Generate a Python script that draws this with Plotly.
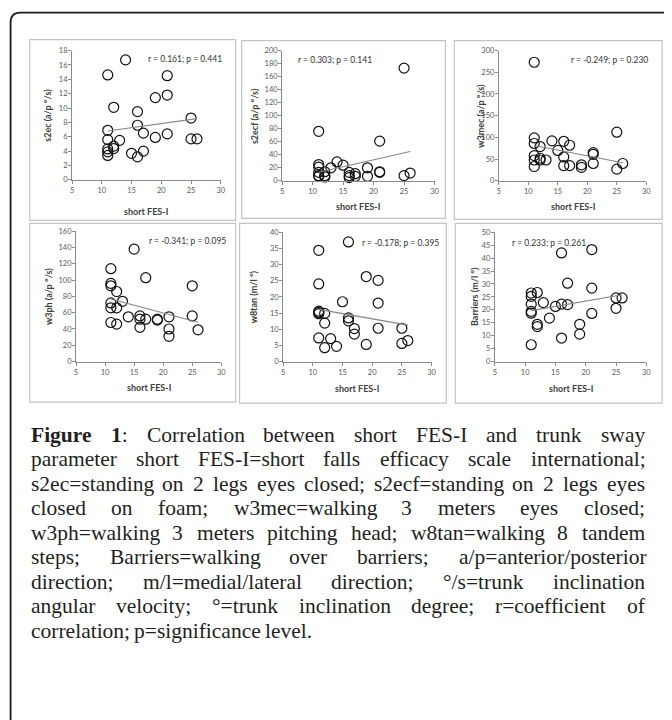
import numpy as np
import plotly.graph_objects as go

W, H = 672, 720
OFF = 8  # default page body margin that shifts the figure

# ---------------- data ----------------
fes_i = [11, 11, 11, 11, 11, 11, 12, 12, 12, 13, 14, 15, 16, 16, 16,
         17, 17, 19, 19, 21, 21, 21, 25, 25, 26]
s2ec = [14.6, 6.9, 5.6, 4.3, 3.9, 3.4, 10.1, 4.7, 4.35, 5.5, 16.7, 3.7,
        9.5, 7.6, 3.2, 6.5, 4.0, 11.45, 5.9, 14.5, 11.8, 6.4, 8.6, 5.7, 5.7]
s2ecf = [76, 25, 21, 13, 8, 7, 14, 8, 6, 20, 29, 24, 13, 8, 5, 11, 7,
         20, 7, 61, 14, 13, 173, 8, 12]
w3mec = [273, 99, 86, 58, 48, 33, 79, 52, 48, 48, 92, 70, 91, 55, 35,
         82, 35, 37, 31, 65, 61, 40, 112, 27, 40]
w3ph = [114, 96, 93, 72, 66, 48, 86, 66, 46, 74, 55, 138, 56, 52, 42,
        103, 52, 52, 51, 55, 40, 31, 93, 56, 39]
w8tan = [34.4, 24.0, 15.6, 15.2, 14.8, 7.3, 14.9, 11.9, 4.3, 7.1, 4.7,
         18.5, 37.0, 13.5, 12.6, 10.2, 8.5, 26.3, 5.3, 25.1, 18.1, 10.3,
         10.3, 5.6, 6.5]
barriers = [26.5, 25.2, 22.2, 19.4, 18.7, 6.5, 26.7, 14.4, 13.5, 22.8,
            16.8, 21.3, 42.0, 22.2, 9.1, 30.3, 22.0, 14.4, 10.6, 43.3,
            28.4, 18.6, 24.6, 20.6, 24.6]

y_titles = ["s2ec (a/p °/s)", "s2ecf (a/p °/s)", "w3mec (a/p °/s)",
            "w3ph (a/p °/s)", "w8tan (m/l °)", "Barriers (m/l °)"]
stat_labels = ["r = 0.161; p = 0.441", "r = 0.303; p = 0.141",
               "r = -0.249; p = 0.230", "r = -0.341; p = 0.095",
               "r = -0.178; p = 0.395", "r = 0.233; p = 0.261"]
y_max = [18, 200, 300, 160, 40, 50]
y_step = [2, 20, 50, 20, 5, 5]
x_title = "short FES-I"

caption_lines = [
    "**Figure** **1**: Correlation between short FES-I and trunk sway",
    "parameter short FES-I=short falls efficacy scale international;",
    "s2ec=standing on 2 legs eyes closed; s2ecf=standing on 2 legs eyes",
    "closed on foam; w3mec=walking 3 meters eyes closed;",
    "w3ph=walking 3 meters pitching head; w8tan=walking 8 tandem",
    "steps; Barriers=walking over barriers; a/p=anterior/posterior",
    "direction; m/l=medial/lateral direction; °/s=trunk inclination",
    "angular velocity; °=trunk inclination degree; r=coefficient of",
    "correlation; p=significance level.",
]

series = [s2ec, s2ecf, w3mec, w3ph, w8tan, barriers]

# ---------------- layout geometry (page pixels) ----------------
geo = [
    dict(box=(28, 36, 236, 219), plot=(70.7, 47, 221, 178), stat=(145, 56), ytx=46, xty=210),
    dict(box=(242, 37, 448, 217), plot=(283, 47, 437, 179), stat=(297, 57), ytx=255, xty=205),
    dict(box=(457, 37, 667, 218), plot=(502, 47, 651, 179), stat=(573, 57), ytx=484, xty=205),
    dict(box=(28, 222, 236, 403), plot=(74.7, 230, 221.5, 362), stat=(146, 240), ytx=47, xty=388),
    dict(box=(240, 222, 449, 404), plot=(284, 231, 434, 362), stat=(362, 242), ytx=254, xty=389),
    dict(box=(458, 222, 667, 404), plot=(498, 231, 651, 362), stat=(513, 242), ytx=478, xty=389),
]

def px(x):
    return (x - OFF) / W

def py(y):
    return 1 - (y - OFF) / H

TICK_FONT = dict(family="Liberation Sans Narrow, Lato", size=7.5, color="#595959")
AX_COL = "#8a8a8a"

fig = go.Figure()
shapes = []
annotations = []

for i, (yv, g) in enumerate(zip(series, geo)):
    n = i + 1
    xa = "x" if n == 1 else f"x{n}"
    ya = "y" if n == 1 else f"y{n}"
    x0, yt, x1, yb = g["plot"]
    fig.add_trace(go.Scatter(
        x=fes_i, y=yv, mode="markers", xaxis=xa, yaxis=ya,
        marker=dict(symbol="circle-open", size=10, color="#111111",
                    line=dict(width=1.2, color="#111111")),
        cliponaxis=False, showlegend=False, hoverinfo="skip"))
    slope, icpt = np.polyfit(fes_i, yv, 1)
    xs = np.array([min(fes_i), max(fes_i)], dtype=float)
    fig.add_trace(go.Scatter(
        x=xs, y=slope * xs + icpt, mode="lines", xaxis=xa, yaxis=ya,
        line=dict(color="#858585", width=1.1),
        cliponaxis=False, showlegend=False, hoverinfo="skip"))
    axkey_x = "xaxis" if n == 1 else f"xaxis{n}"
    axkey_y = "yaxis" if n == 1 else f"yaxis{n}"
    fig.update_layout(**{
        axkey_x: dict(domain=[px(x0), px(x1)], anchor=ya, range=[5, 30],
                      tick0=5, dtick=5, showline=True, linecolor=AX_COL,
                      linewidth=1, ticks="outside", ticklen=3,
                      tickcolor=AX_COL, showgrid=False, zeroline=False,
                      tickfont=TICK_FONT, fixedrange=True),
        axkey_y: dict(domain=[py(yb), py(yt)], anchor=xa,
                      range=[0, y_max[i] * 1.0001], tick0=0, dtick=y_step[i],
                      showline=True, linecolor=AX_COL, linewidth=1,
                      ticks="outside", ticklen=3, tickcolor=AX_COL,
                      ticklabelstandoff=-1,
                      showgrid=False, zeroline=False, tickfont=TICK_FONT,
                      fixedrange=True),
    })
    bx0, by0, bx1, by1 = g["box"]
    shapes.append(dict(type="rect", xref="paper", yref="paper",
                       x0=px(bx0), x1=px(bx1), y0=py(by1), y1=py(by0),
                       line=dict(color="#c4c4c4", width=1.2)))
    annotations.append(dict(text=stat_labels[i], xref="paper", yref="paper",
                            x=px(g["stat"][0]), y=py(g["stat"][1]),
                            xanchor="left", yanchor="middle", showarrow=False,
                            font=dict(family="Lato", size=8.5, color="#333333")))
    annotations.append(dict(text=f"<b>{y_titles[i]}</b>", xref="paper", yref="paper",
                            x=px(g["ytx"]), y=py((yt + yb) / 2), textangle=-90,
                            xanchor="center", yanchor="middle", showarrow=False,
                            font=dict(family="Lato", size=9, color="#404040")))
    annotations.append(dict(text=f"<b>{x_title}</b>", xref="paper", yref="paper",
                            x=px((x0 + x1) / 2), y=py(g["xty"]),
                            xanchor="center", yanchor="middle", showarrow=False,
                            font=dict(family="Lato", size=9, color="#404040")))

# outer frame with rounded top-left corner (right and bottom run off page)
fl, ft, fr, fb, rad = 8.6, 8.6, 700, 760, 10
path = (f"M {px(fl)},{py(fb)} L {px(fl)},{py(ft + rad)} "
        f"Q {px(fl)},{py(ft)} {px(fl + rad)},{py(ft)} L {px(fr)},{py(ft)}")
shapes.append(dict(type="path", xref="paper", yref="paper", path=path,
                   line=dict(color="#1a1a1a", width=1.8)))

# ---------------- justified caption ----------------
TNR = {' ': 250, ':': 278, ';': 278, '-': 333, '.': 250, '=': 564, '/': 278,
       '°': 400, '0': 500, '1': 500, '2': 500, '3': 500, '8': 500,
       'B': 667, 'C': 667, 'E': 611, 'F': 556, 'I': 333, 'S': 556,
       'a': 444, 'b': 500, 'c': 444, 'd': 500, 'e': 444, 'f': 333, 'g': 500,
       'h': 500, 'i': 278, 'j': 278, 'k': 500, 'l': 278, 'm': 778, 'n': 500,
       'o': 500, 'p': 500, 'q': 500, 'r': 333, 's': 389, 't': 278, 'u': 500,
       'v': 500, 'w': 722, 'x': 500, 'y': 500, 'z': 444}
TNR_B = {'F': 611, 'i': 278, 'g': 500, 'u': 556, 'r': 444, 'e': 444, '1': 500}

CAP_FS = 21.5
CAP_LEFT, CAP_RIGHT = 28, 648
CAP_Y0, CAP_DY = 436, 24.8

def word_parts(word):
    parts = word.split("**")
    return [(p, k % 2 == 1) for k, p in enumerate(parts) if p]

def word_width(word):
    tot = 0
    for text, bold in word_parts(word):
        tbl = TNR_B if bold else TNR
        tot += sum(tbl.get(c, TNR.get(c, 500)) for c in text)
    return tot * CAP_FS / 1000

def word_html(word):
    return "".join(f"<b>{t}</b>" if b else t for t, b in word_parts(word))

for li, line in enumerate(caption_lines):
    words = line.split(" ")
    widths = [word_width(w) for w in words]
    last = li == len(caption_lines) - 1
    if last or len(words) == 1:
        gap = 250 * CAP_FS / 1000
    else:
        gap = (CAP_RIGHT - CAP_LEFT - sum(widths)) / (len(words) - 1)
    xcur = CAP_LEFT
    yc = CAP_Y0 + li * CAP_DY
    for w, wd in zip(words, widths):
        annotations.append(dict(text=word_html(w), xref="paper", yref="paper",
                                x=px(xcur - 1), y=py(yc), xanchor="left",
                                yanchor="middle", showarrow=False,
                                font=dict(family="Liberation Serif", size=CAP_FS,
                                          color="#231f20")))
        xcur += wd + gap

fig.update_layout(width=W, height=H, margin=dict(l=0, r=0, t=0, b=0),
                  paper_bgcolor="white", plot_bgcolor="white",
                  shapes=shapes, annotations=annotations, showlegend=False)

fig.write_html("out.html")
